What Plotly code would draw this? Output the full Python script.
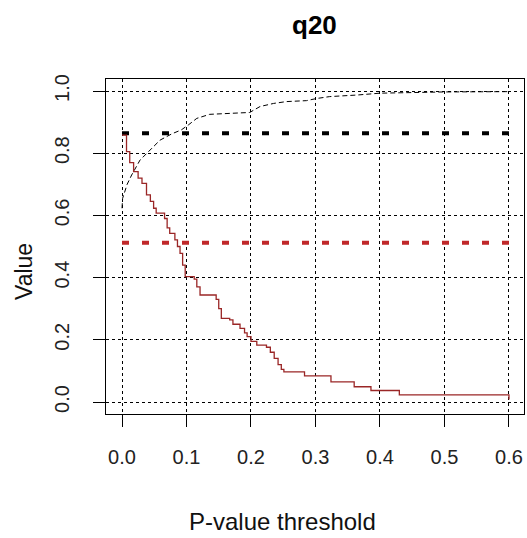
import plotly.graph_objects as go

# ---- data ----
red_x = [0.000, 0.007, 0.012, 0.018, 0.025, 0.031, 0.038, 0.044, 0.049, 0.053,
         0.066, 0.070, 0.074, 0.082, 0.086, 0.090, 0.094, 0.098, 0.112, 0.116,
         0.121, 0.146, 0.150, 0.154, 0.167, 0.172, 0.183, 0.190, 0.194, 0.200,
         0.209, 0.224, 0.230, 0.236, 0.242, 0.247, 0.251, 0.283, 0.324, 0.360,
         0.386, 0.430, 0.600]
red_y = [0.858, 0.805, 0.770, 0.741, 0.720, 0.703, 0.666, 0.645, 0.623, 0.607,
         0.590, 0.560, 0.542, 0.521, 0.500, 0.478, 0.440, 0.403, 0.395, 0.370,
         0.344, 0.330, 0.300, 0.269, 0.264, 0.250, 0.237, 0.222, 0.210, 0.195,
         0.183, 0.176, 0.160, 0.140, 0.120, 0.105, 0.097, 0.084, 0.065, 0.049,
         0.037, 0.023, 0.008]

black_x = [0.000, 0.001, 0.008, 0.015, 0.028, 0.041, 0.059, 0.077, 0.092, 0.103,
           0.116, 0.136, 0.165, 0.198, 0.214, 0.235, 0.255, 0.286, 0.302, 0.322,
           0.364, 0.400, 0.450, 0.500, 0.600]
black_y = [0.623, 0.655, 0.700, 0.730, 0.778, 0.805, 0.842, 0.862, 0.875, 0.891,
           0.912, 0.925, 0.928, 0.931, 0.950, 0.960, 0.966, 0.969, 0.976, 0.982,
           0.987, 0.993, 0.995, 0.997, 0.998]

ref_black = 0.864
ref_red = 0.512
x_range = [0.0, 0.6]

x_ticks = [0.0, 0.1, 0.2, 0.3, 0.4, 0.5, 0.6]
x_tick_labels = ["0.0", "0.1", "0.2", "0.3", "0.4", "0.5", "0.6"]
y_ticks = [0.0, 0.2, 0.4, 0.6, 0.8, 1.0]
y_tick_labels = ["0.0", "0.2", "0.4", "0.6", "0.8", "1.0"]

title_text = "q20"
x_title = "P-value threshold"
y_title = "Value"

# ---- layout geometry ----
W, H = 527, 538
L, R, T, B = 106, 3, 79, 124
PW, PH = W - L - R, H - T - B
FONT = "Liberation Sans, Arial, sans-serif"

def px_to_paper_x(px):
    return (px - L) / PW

def px_to_paper_y(py):
    return (H - B - py) / PH

fig = go.Figure()

fig.add_trace(go.Scatter(x=x_range, y=[ref_black, ref_black], mode="lines",
                         line=dict(color="black", width=4, dash="7px,13px"),
                         hoverinfo="skip", showlegend=False))
fig.add_trace(go.Scatter(x=x_range, y=[ref_red, ref_red], mode="lines",
                         line=dict(color="#c0282a", width=4, dash="7px,13px"),
                         hoverinfo="skip", showlegend=False))
fig.add_trace(go.Scatter(x=black_x, y=black_y, mode="lines",
                         line=dict(color="black", width=1, dash="5px,3px"),
                         showlegend=False))
fig.add_trace(go.Scatter(x=red_x, y=red_y, mode="lines",
                         line=dict(color="#9a2626", width=1.3, shape="hv"),
                         showlegend=False))

axis_common = dict(
    showline=True, linecolor="black", linewidth=1, mirror=True,
    ticks="outside", ticklen=12, tickcolor="black", tickwidth=1,
    showgrid=True, gridcolor="black", gridwidth=1, griddash="dot",
    zeroline=False,
    tickfont=dict(family=FONT, size=20, color="#222"),
)

fig.update_xaxes(range=[-0.0248, 0.6233], tickvals=x_ticks, ticktext=x_tick_labels,
                 ticklabelstandoff=13, **axis_common)
fig.update_yaxes(range=[-0.0386, 1.0386], tickvals=y_ticks, ticktext=y_tick_labels,
                 tickangle=-90, ticklabelstandoff=16, **axis_common)

fig.update_layout(
    width=W, height=H,
    margin=dict(l=L, r=R, t=T, b=B),
    paper_bgcolor="white", plot_bgcolor="white",
    showlegend=False,
    annotations=[
        dict(text="<b>" + title_text + "</b>", xref="paper", yref="paper",
             x=px_to_paper_x(314), y=px_to_paper_y(25), xanchor="center", yanchor="middle",
             showarrow=False, font=dict(family=FONT, size=26, color="black")),
        dict(text=x_title, xref="paper", yref="paper",
             x=px_to_paper_x(282), y=px_to_paper_y(521), xanchor="center", yanchor="middle",
             showarrow=False, font=dict(family=FONT, size=24, color="#111")),
        dict(text=y_title, xref="paper", yref="paper",
             x=px_to_paper_x(24), y=px_to_paper_y(272), xanchor="center", yanchor="middle",
             textangle=-90,
             showarrow=False, font=dict(family=FONT, size=23, color="#111")),
    ],
)

fig.write_html("out.html",
               config={"displayModeBar": False},
               post_script="document.body.style.margin='0';document.body.style.overflow='hidden';")
